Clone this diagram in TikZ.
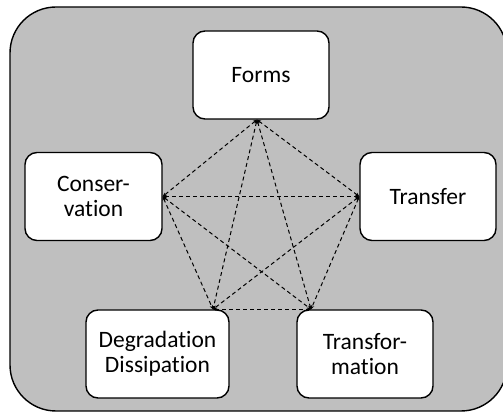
\documentclass[tikz,border=0pt]{standalone}
\usepackage{fontspec}
\setmainfont[Ligatures=NoCommon]{Carlito}
\usetikzlibrary{arrows.meta}
\definecolor{bggray}{RGB}{191,191,191}
\tikzset{
  topic/.style={draw=black, fill=white, line width=1.4pt, rounded corners=12pt,
    minimum width=#1, minimum height=88pt, align=center, inner sep=0pt,
    font=\fontsize{23.5}{25}\selectfont},
  link/.style={dashed, dash pattern=on 4pt off 3pt, line width=1pt,
    {Stealth[length=4pt,width=3.5pt]}-{Stealth[length=4pt,width=3.5pt]}}
}
\begin{document}
\begin{tikzpicture}[x=1pt,y=1pt]
\useasboundingbox (0,0) rectangle (503,414);
\begin{scope}
\clip (0,0) rectangle (503,414);
\draw[fill=bggray, line width=1.4pt, rounded corners=46pt] (10,3) rectangle (507,407);
\end{scope}
\node[topic=136pt] (forms) at (261,339) {Forms};
\node[topic=137pt] (cons) at (93.5,217.5) {Conser-\\vation};
\node[topic=136pt] (transf) at (428,217.5) {Transfer};
\node[topic=143pt] (deg) at (157.5,60) {Degradation\\Dissipation};
\node[topic=136pt] (tform) at (365,60) {Transfor-\\mation};
\coordinate (f) at ([xshift=-4pt]forms.south);
\coordinate (c) at (cons.east);
\coordinate (t) at (transf.west);
\coordinate (d) at ([xshift=55.5pt]deg.north);
\coordinate (m) at ([xshift=-54pt]tform.north);
\draw[link] (f) -- (c);
\draw[link] (f) -- (t);
\draw[link] (f) -- (d);
\draw[link] (f) -- (m);
\draw[link] (c) -- (t);
\draw[link] (c) -- (d);
\draw[link] (c) -- (m);
\draw[link] (t) -- (d);
\draw[link] (t) -- (m);
\draw[link] (d) -- (m);
\end{tikzpicture}
\end{document}
